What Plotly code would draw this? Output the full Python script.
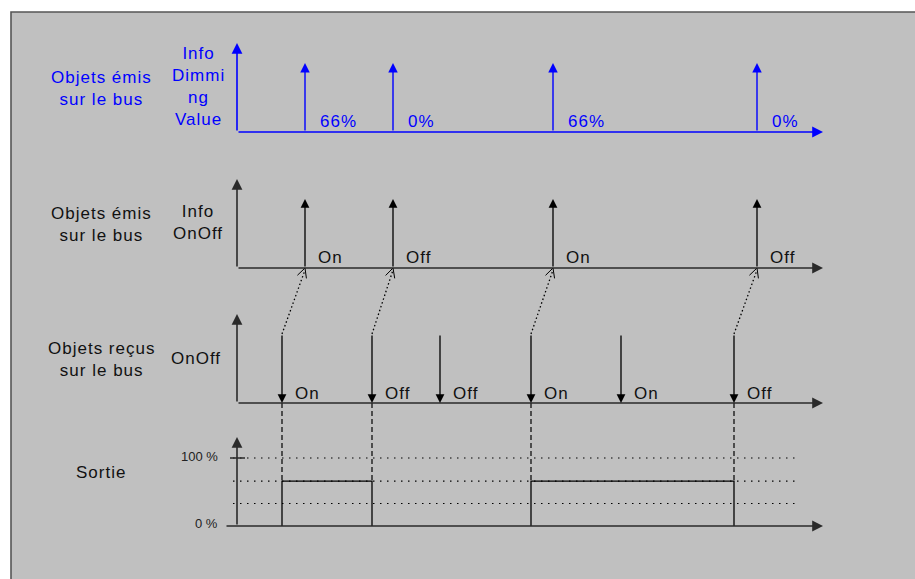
import math
import plotly.graph_objects as go

# ---------------- data ----------------
# time axis: units counted from the vertical axis of each panel
dim_times = [68, 156, 316, 520]
dim_values = ["66%", "0%", "66%", "0%"]
onoff_times = [68, 156, 316, 520]
onoff_labels = ["On", "Off", "On", "Off"]
recv_times = [45, 135, 203, 294, 384, 497]
recv_labels = ["On", "Off", "Off", "On", "On", "Off"]
links = [(0, 0), (1, 1), (3, 2), (5, 3)]          # (received index, emitted index)
dim_level = 66                                     # % applied on "On"
grid_levels = [33, 66, 100]
sortie_ticks = [0, 100]
sortie_tick_labels = ["0 %", "100 %"]
row_titles = ["Objets émis<br>sur le bus", "Objets émis<br>sur le bus",
              "Objets reçus<br>sur le bus", "Sortie"]
signal_names = ["Info<br>Dimmi<br>ng<br>Value", "Info<br>OnOff", "OnOff", ""]

# ---------------- layout geometry (pixels) ----------------
W, H = 915, 579
X0 = 237                       # pixel of time origin
T_END = 586                    # end of time axis arrows
T_GRID0, T_GRID1 = -4, 561
BASES = [132, 268, 403, 526]   # baselines of the four rows
AX_H = 90                      # height of vertical axis arrows
EV_H = 69                      # height of event arrows
S0, S100 = 526, 458            # pixel of 0 % and 100 %
k = (S0 - S100) / 100.0
Y2_RANGE = [-15, 140]
y2_bot = S0 - Y2_RANGE[0] * k
y2_top = S0 - Y2_RANGE[1] * k

BLUE = "#0000ff"
BLACK = "#000000"
AXC = "#2a2a2a"
FONT = "Liberation Sans, Arial, sans-serif"
FS = 17


def spaced(txt):
    return "<br>".join(f'<span style="letter-spacing:1px">{l}</span>' for l in txt.split("<br>"))


fig = go.Figure()
annotations = []
shapes = []


def arrow(x_tail, y_tail, x_tip, y_tip, color, width=1.4, size=1.35, yref="y"):
    annotations.append(dict(
        x=x_tip, y=y_tip, ax=x_tail, ay=y_tail, xref="x", yref=yref, axref="x", ayref=yref,
        text="", showarrow=True, arrowhead=2, arrowsize=size, arrowwidth=width,
        arrowcolor=color, standoff=0, startstandoff=0))


def label(x, y, txt, color, size=FS, xanchor="left", yref="y"):
    annotations.append(dict(
        x=x, y=y, xref="x", yref=yref, text=spaced(txt), showarrow=False,
        xanchor=xanchor, yanchor="middle", font=dict(family=FONT, size=size, color=color)))


# outer frame
shapes.append(dict(type="rect", xref="paper", yref="paper",
                   x0=11 / W, x1=1.05, y0=-0.05, y1=1 - 12 / H,
                   line=dict(color="#555555", width=1.6), fillcolor="#c0c0c0", layer="below"))

# ---- row axes ----
for i, b in enumerate(BASES):
    col = BLUE if i == 0 else AXC
    arrow(0, b, 0, b - AX_H + 1, col, width=1.6)
    x_start = 0 if i < 3 else -12
    arrow(x_start, b, T_END, b, col, width=1.6)
    # row titles
    label(101 - X0, b - 44 if i < 3 else 472, row_titles[i], BLUE if i == 0 else "#111111",
          xanchor="center")
    if signal_names[i]:
        yc = {0: 86.5, 1: 222.5, 2: 358}[i]
        xc = -39 if i < 2 else -41
        label(xc, yc, signal_names[i], BLUE if i == 0 else "#111111", xanchor="center")

# ---- row 1: dimming value emitted ----
for t, v in zip(dim_times, dim_values):
    arrow(t, BASES[0], t, BASES[0] - EV_H, BLUE, width=1.4)
    label(t + 13, BASES[0] - 11, v, BLUE)

# ---- row 2: on/off emitted ----
for t, v in zip(onoff_times, onoff_labels):
    arrow(t, BASES[1], t, BASES[1] - EV_H, BLACK, width=1.3)
    label(t + 11, BASES[1] - 11, v, "#111111")

# ---- row 3: on/off received ----
for t, v in zip(recv_times, recv_labels):
    arrow(t, BASES[2] - EV_H, t, BASES[2], BLACK, width=1.3)
    label(t + 11, BASES[2] - 10, v, "#111111")

# ---- dotted links (received -> emitted) ----
lx, ly, bx, by = [], [], [], []
for ri, ei in links:
    xt, yt = recv_times[ri], BASES[2] - EV_H
    xh, yh = onoff_times[ei], BASES[1]
    lx += [xt, xh, None]
    ly += [yt, yh + 2, None]
    dx, dy = xt - xh, yt - yh
    n = math.hypot(dx, dy)
    ux, uy = dx / n, dy / n
    for s in (1, -1):
        a = math.radians(27) * s
        rx = ux * math.cos(a) - uy * math.sin(a)
        ry = ux * math.sin(a) + uy * math.cos(a)
        bx += [xh + 10.5 * rx, xh, None]
        by += [yh + 10.5 * ry, yh, None]
fig.add_trace(go.Scatter(x=lx, y=ly, mode="lines", line=dict(color=BLACK, width=1.3, dash="1.5px,2.5px"),
                         hoverinfo="skip"))
fig.add_trace(go.Scatter(x=bx, y=by, mode="lines", line=dict(color=BLACK, width=1.0), hoverinfo="skip"))

# ---- output (Sortie) computed from received commands ----
state = 0
ex = []
edges = []
for t, v in zip(recv_times, recv_labels):
    new = dim_level if v == "On" else 0
    if new != state:
        edges.append((t, max(new, state)))
        state = new
        ex.append(t)
# pulses
pulse_x, pulse_y = [], []
for j in range(0, len(ex) - 1, 2):
    ton, toff = ex[j], ex[j + 1]
    pulse_x += [ton, ton, toff, toff, None]
    pulse_y += [0, dim_level, dim_level, 0, None]

# grid dotted lines
gx, gy = [], []
for g in grid_levels:
    gx += [T_GRID0, T_GRID1, None]
    gy += [g, g, None]
fig.add_trace(go.Scatter(x=gx, y=gy, yaxis="y2", mode="lines",
                         line=dict(color=BLACK, width=1.1, dash="1.5px,5.5px"), hoverinfo="skip"))
# 100 % tick mark
fig.add_trace(go.Scatter(x=[-7, 8], y=[sortie_ticks[1]] * 2, yaxis="y2", mode="lines",
                         line=dict(color=AXC, width=1.3), hoverinfo="skip"))
fig.add_trace(go.Scatter(x=pulse_x, y=pulse_y, yaxis="y2", mode="lines",
                         line=dict(color=BLACK, width=1.3), hoverinfo="skip"))

# dashed verticals from received baseline to output level
dx_, dy_ = [], []
for t, lvl in edges:
    dx_ += [t, t, None]
    dy_ += [BASES[2], S0 - lvl * k, None]
fig.add_trace(go.Scatter(x=dx_, y=dy_, mode="lines",
                         line=dict(color=BLACK, width=1.2, dash="5px,3px"), hoverinfo="skip"))

# sortie tick labels
for v, txt in zip(sortie_ticks, sortie_tick_labels):
    annotations.append(dict(x=-17, y=v + (3 if v == 0 else 2), xref="x", yref="y2", text=txt,
                            showarrow=False, xanchor="right", yanchor="middle",
                            font=dict(family=FONT, size=13, color="#222222")))

fig.update_layout(
    width=W, height=H, autosize=False,
    margin=dict(l=0, r=0, t=0, b=0),
    paper_bgcolor="white", plot_bgcolor="rgba(0,0,0,0)",
    showlegend=False,
    xaxis=dict(range=[-X0, W - X0], domain=[0, 1], visible=False, fixedrange=True),
    yaxis=dict(range=[H, 0], domain=[0, 1], visible=False, fixedrange=True),
    yaxis2=dict(range=Y2_RANGE, domain=[(H - y2_bot) / H, (H - y2_top) / H],
                anchor="x", visible=False, fixedrange=True),
    annotations=annotations,
    shapes=shapes,
)

fig.write_html("out.html", config={"displayModeBar": False},
               post_script="document.body.style.margin='0px';document.body.style.overflow='hidden';")
